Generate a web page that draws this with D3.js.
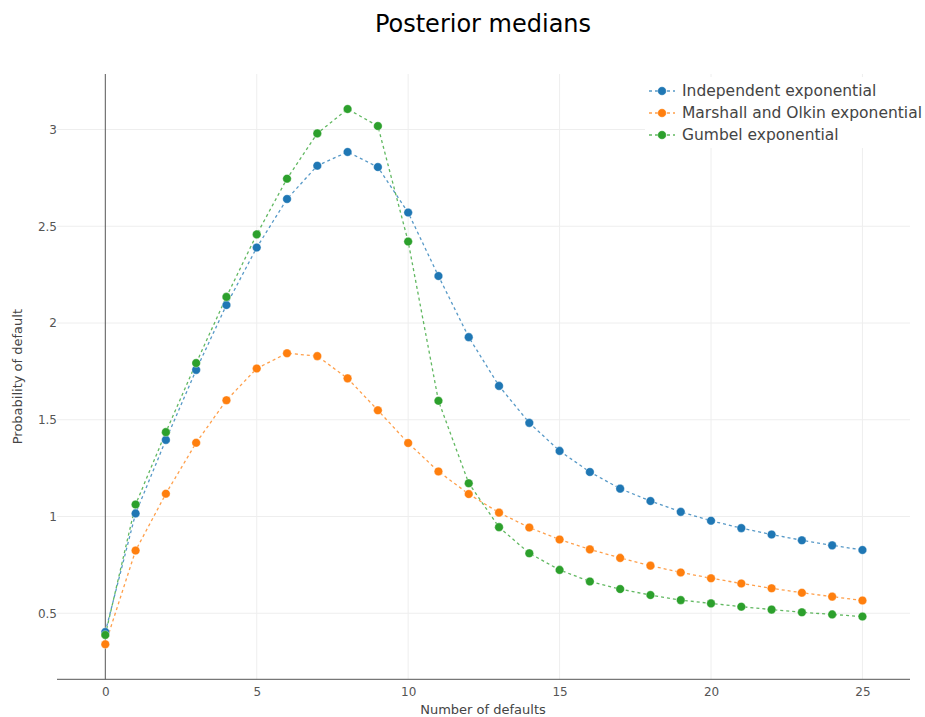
<!DOCTYPE html>
<html>
<head>
<meta charset="utf-8">
<script src="https://cdn.jsdelivr.net/npm/d3@7"></script>
<style>
  html, body { margin: 0; padding: 0; background: #fff; }
  svg { display: block; font-family: "DejaVu Sans", Verdana, sans-serif; }
</style>
</head>
<body>
<svg id="chart" width="925" height="717"></svg>
<script>
// Number of defaults (x categories)
const defaults = d3.range(0, 26);

// Posterior medians of the probability of default for each model
const independentExp = [0.403, 1.016, 1.396, 1.758, 2.093, 2.390, 2.641, 2.813, 2.884, 2.806,
  2.571, 2.243, 1.927, 1.675, 1.484, 1.339, 1.230, 1.144, 1.080, 1.024,
  0.978, 0.940, 0.907, 0.877, 0.851, 0.827];
const marshallOlkinExp = [0.340, 0.824, 1.118, 1.381, 1.601, 1.765, 1.844, 1.829, 1.714, 1.549,
  1.380, 1.233, 1.116, 1.020, 0.943, 0.881, 0.830, 0.786, 0.746, 0.711,
  0.681, 0.654, 0.629, 0.606, 0.586, 0.566];
const gumbelExp = [0.388, 1.062, 1.436, 1.793, 2.135, 2.458, 2.746, 2.980, 3.106, 3.018,
  2.421, 1.598, 1.172, 0.945, 0.810, 0.724, 0.664, 0.625, 0.594, 0.568,
  0.551, 0.534, 0.519, 0.505, 0.494, 0.483];

const seriesNames = ["Independent exponential", "Marshall and Olkin exponential", "Gumbel exponential"];
const seriesColors = ["#1f77b4", "#ff7f0e", "#2ca02c"];
const xTicks = [0, 5, 10, 15, 20, 25];
const yTicks = [0.5, 1, 1.5, 2, 2.5, 3];

const series = [independentExp, marshallOlkinExp, gumbelExp].map((vals, i) => ({
  name: seriesNames[i],
  color: seriesColors[i],
  points: defaults.map((d, j) => ({ x: d, y: vals[j] }))
}));

const svg = d3.select("#chart");
const plot = { left: 57, top: 74, right: 910, bottom: 679.3 };

const x = d3.scaleLinear().domain([-1.595, 26.57]).range([plot.left, plot.right]);
const y = d3.scaleLinear().domain([0.1587, 3.287]).range([plot.bottom, plot.top]);

// Grid
const grid = svg.append("g").attr("class", "grid");
grid.selectAll("line.gx").data(xTicks.filter(t => t !== 0)).join("line")
  .attr("x1", d => x(d)).attr("x2", d => x(d))
  .attr("y1", plot.top).attr("y2", plot.bottom)
  .attr("stroke", "#eeeeee").attr("stroke-width", 1);
grid.selectAll("line.gy").data(yTicks).join("line")
  .attr("x1", plot.left).attr("x2", plot.right)
  .attr("y1", d => y(d)).attr("y2", d => y(d))
  .attr("stroke", "#eeeeee").attr("stroke-width", 1);

// Zero line at x = 0
svg.append("line")
  .attr("x1", x(0)).attr("x2", x(0))
  .attr("y1", plot.top).attr("y2", plot.bottom)
  .attr("stroke", "#555").attr("stroke-width", 1);

// x axis line
svg.append("line")
  .attr("x1", plot.left).attr("x2", plot.right)
  .attr("y1", plot.bottom).attr("y2", plot.bottom)
  .attr("stroke", "#555").attr("stroke-width", 1);

// x axis ticks
const xAxis = d3.axisBottom(x).tickValues(xTicks).tickSize(0).tickPadding(5).tickFormat(d3.format("d"));
const gx = svg.append("g").attr("transform", `translate(0,${plot.bottom})`).call(xAxis);
gx.select(".domain").remove();
gx.selectAll("text").attr("fill", "#555").attr("font-size", 12)
  .attr("font-family", "DejaVu Sans, sans-serif").attr("dy", "0.95em");

// y axis ticks
const yAxis = d3.axisLeft(y).tickValues(yTicks).tickSize(0).tickPadding(0).tickFormat(d => String(d));
const gy = svg.append("g").attr("transform", `translate(${plot.left},0)`).call(yAxis);
gy.select(".domain").remove();
gy.selectAll("text").attr("fill", "#555").attr("font-size", 12)
  .attr("font-family", "DejaVu Sans, sans-serif");

// Series lines and markers
const line = d3.line().x(d => x(d.x)).y(d => y(d.y));
const seriesG = svg.append("g");
series.forEach(s => {
  seriesG.append("path")
    .datum(s.points)
    .attr("d", line)
    .attr("fill", "none")
    .attr("stroke", s.color)
    .attr("stroke-width", 1.3)
    .attr("stroke-opacity", 0.75)
    .attr("stroke-dasharray", "3,3");
});
series.forEach(s => {
  seriesG.selectAll(null).data(s.points).join("circle")
    .attr("cx", d => x(d.x)).attr("cy", d => y(d.y))
    .attr("r", 4.3)
    .attr("fill", s.color)
    .attr("stroke", "#ffffff").attr("stroke-opacity", 0.6).attr("stroke-width", 0.6);
});

// Legend
const legend = svg.append("g");
legend.append("rect")
  .attr("x", 645).attr("y", 77).attr("width", 280).attr("height", 71)
  .attr("fill", "#ffffff");
series.forEach((s, i) => {
  const ly = 91 + i * 22;
  legend.append("line")
    .attr("x1", 649).attr("x2", 675).attr("y1", ly).attr("y2", ly)
    .attr("stroke", s.color).attr("stroke-width", 1.3).attr("stroke-opacity", 0.75)
    .attr("stroke-dasharray", "3,3");
  legend.append("circle")
    .attr("cx", 662).attr("cy", ly).attr("r", 4.3).attr("fill", s.color)
    .attr("stroke", "#ffffff").attr("stroke-opacity", 0.6).attr("stroke-width", 0.6);
  legend.append("text")
    .attr("x", 682).attr("y", ly).attr("dy", "0.35em")
    .attr("fill", "#444").attr("font-size", 15.5)
    .text(s.name);
});

// Title
svg.append("text")
  .attr("x", 483).attr("y", 32)
  .attr("text-anchor", "middle")
  .attr("fill", "#000").attr("font-size", 24)
  .text("Posterior medians");

// Axis titles
svg.append("text")
  .attr("x", 483).attr("y", 714)
  .attr("text-anchor", "middle")
  .attr("fill", "#444").attr("font-size", 13)
  .text("Number of defaults");

svg.append("text")
  .attr("transform", `translate(22,${(plot.top + plot.bottom) / 2}) rotate(-90)`)
  .attr("text-anchor", "middle")
  .attr("fill", "#444").attr("font-size", 13)
  .text("Probability of default");
</script>
</body>
</html>
